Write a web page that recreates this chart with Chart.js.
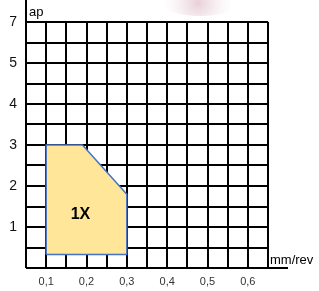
<!DOCTYPE html>
<html>
<head>
<meta charset="utf-8">
<script src="https://cdn.jsdelivr.net/npm/chart.js@4/dist/chart.umd.min.js"></script>
<style>
  html, body { margin: 0; padding: 0; background: #fff; }
  #wrap { width: 319px; height: 291px; position: relative; }
</style>
</head>
<body>
<div id="wrap"><canvas id="myChart"></canvas></div>
<script>
// data
var xTickLabels = ['0,1', '0,2', '0,3', '0,4', '0,5', '0,6'];
var yTickLabels = ['1', '2', '3', '4', '5', '7'];
var feedX = [0.1, 0.1, 0.19, 0.3, 0.3, 0.1];
var depthY = [0.33, 3, 3, 1.8, 0.33, 0.33];
var regionLabel = '1X';
var labelAt = [0.185, 1.3];

var points = feedX.map(function (x, i) { return { x: x, y: depthY[i] }; });

// extends the axis lines, writes the axis names and the region label
var extras = {
    id: 'extras',
    beforeDatasetsDraw: function (chart) {
        var c = chart.ctx;
        c.save();
        // faint pink blur at the top (from the source scan)
        var g = c.createRadialGradient(198, 3, 1, 198, 3, 34);
        g.addColorStop(0, 'rgba(200,140,160,0.4)');
        g.addColorStop(1, 'rgba(230,200,215,0)');
        c.fillStyle = g;
        c.beginPath();
        c.ellipse(200, 2, 40, 14, 0, 0, Math.PI * 2);
        c.fill();
        c.restore();
    },
    afterDraw: function (chart) {
        var c = chart.ctx, a = chart.chartArea;
        var xs = chart.scales.x, ys = chart.scales.y;
        c.save();
        c.strokeStyle = '#000';
        c.lineWidth = 2;
        c.beginPath();
        c.moveTo(a.left, a.bottom);
        c.lineTo(a.left, 0);
        c.moveTo(a.left, a.bottom);
        c.lineTo(a.right + 20, a.bottom);
        c.stroke();
        c.fillStyle = '#000';
        c.font = '13px "Liberation Sans", Arial, sans-serif';
        c.textBaseline = 'middle';
        c.textAlign = 'left';
        c.fillText('ap', a.left + 3, 12);
        c.fillText('mm/rev', a.right + 2, a.bottom - 8);
        c.font = 'bold 16px "Liberation Sans", Arial, sans-serif';
        c.textAlign = 'center';
        c.fillText(regionLabel, xs.getPixelForValue(labelAt[0]), ys.getPixelForValue(labelAt[1]));
        c.restore();
    }
};

var ctx = document.getElementById('myChart').getContext('2d');
var myChart = new Chart(ctx, {
    type: 'scatter',
    data: {
        datasets: [{
            data: points,
            showLine: true,
            fill: 'shape',
            backgroundColor: '#FFE699',
            borderColor: '#4472C4',
            borderWidth: 1.5,
            pointRadius: 0,
            tension: 0
        }]
    },
    options: {
        responsive: true,
        maintainAspectRatio: false,
        animation: false,
        layout: { padding: { top: 22, right: 51, left: 0, bottom: 0 } },
        plugins: { legend: { display: false }, tooltip: { enabled: false } },
        scales: {
            x: {
                type: 'linear',
                min: 0.05,
                max: 0.65,
                afterBuildTicks: function (scale) {
                    var t = [];
                    for (var i = 0; i <= 12; i++) t.push({ value: 0.05 + i * 0.05 });
                    scale.ticks = t;
                },
                afterFit: function (scale) { scale.height = 23; },
                grid: { color: '#000', lineWidth: 2, drawTicks: false },
                border: { display: false },
                ticks: {
                    autoSkip: false,
                    maxRotation: 0,
                    padding: 7,
                    color: '#333',
                    font: { family: '"Liberation Sans", Arial, sans-serif', size: 11 },
                    callback: function (v, i) { return i % 2 === 1 ? xTickLabels[(i - 1) / 2] : ''; }
                }
            },
            y: {
                type: 'linear',
                min: 0,
                max: 6,
                afterBuildTicks: function (scale) {
                    var t = [];
                    for (var i = 0; i <= 12; i++) t.push({ value: i * 0.5 });
                    scale.ticks = t;
                },
                afterFit: function (scale) { scale.width = 26; },
                grid: { color: '#000', lineWidth: 2, drawTicks: false },
                border: { display: false },
                ticks: {
                    autoSkip: false,
                    padding: 9,
                    color: '#111',
                    font: { family: '"Liberation Sans", Arial, sans-serif', size: 14 },
                    callback: function (v, i) { return (i % 2 === 0 && i > 0) ? yTickLabels[i / 2 - 1] : ''; }
                }
            }
        }
    },
    plugins: [extras]
});
</script>
</body>
</html>
